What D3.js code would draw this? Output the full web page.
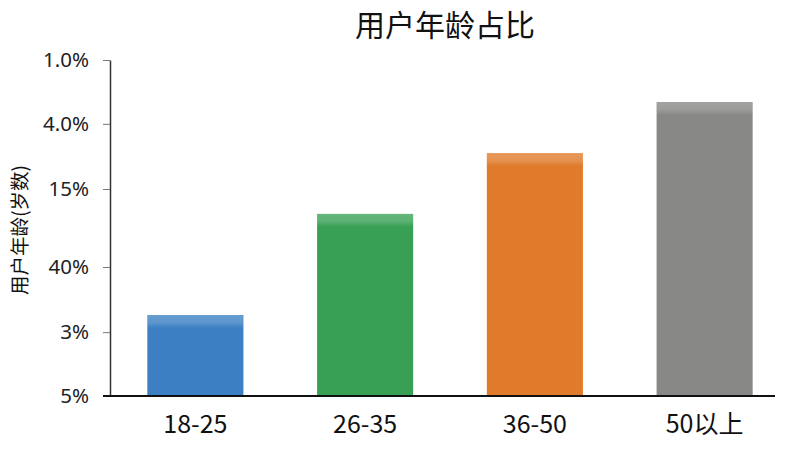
<!DOCTYPE html>
<html>
<head>
<meta charset="utf-8">
<script src="https://cdn.jsdelivr.net/npm/d3@7"></script>
<style>
  body { margin: 0; background: #fff; }
  text { font-family: "Noto Sans CJK SC", "Noto Sans", sans-serif; }
</style>
</head>
<body>
<div id="chart"></div>
<script>
// chart data
const categories = ["18-25", "26-35", "36-50", "50以上"];
const values = [24.1, 54.2, 72.3, 87.5];
const barColors = ["#3c80c3", "#38a055", "#e07b2b", "#888886"];
// y tick positions (axis units) and the labels printed on them
const tickValues = [0, 19, 38.4, 61.6, 81, 100];
const tickLabels = ["5%", "3%", "40%", "15%", "4.0%", "1.0%"];

const width = 800, height = 450;
const margin = { top: 60, right: 10, bottom: 54, left: 110 };

const svg = d3.select("#chart")
  .append("svg")
  .attr("width", width)
  .attr("height", height);

const defs = svg.append("defs");
const hl = defs.append("linearGradient")
  .attr("id", "hl")
  .attr("x1", 0).attr("y1", 0).attr("x2", 0).attr("y2", 1);
hl.append("stop").attr("offset", "0%").attr("stop-color", "#fff").attr("stop-opacity", 0.22);
hl.append("stop").attr("offset", "55%").attr("stop-color", "#fff").attr("stop-opacity", 0.18);
hl.append("stop").attr("offset", "100%").attr("stop-color", "#fff").attr("stop-opacity", 0);

const x = d3.scaleBand()
  .domain(categories)
  .range([margin.left, 790])
  .paddingInner(0.434)
  .paddingOuter(0.22);

const y = d3.scaleLinear()
  .domain([0, 100])
  .range([height - margin.bottom, margin.top]);

// title
svg.append("text")
  .attr("x", 445)
  .attr("y", 36)
  .attr("text-anchor", "middle")
  .attr("font-size", 30)
  .attr("fill", "#111")
  .text("用户年龄占比");

// y axis label
svg.append("text")
  .attr("transform", `translate(27,${230}) rotate(-90)`)
  .attr("text-anchor", "middle")
  .attr("font-size", 19.5)
  .attr("fill", "#111")
  .text("用户年龄(岁数)");

// bars
svg.selectAll(".bar")
  .data(values)
  .enter().append("rect")
  .attr("class", "bar")
  .attr("x", (d, i) => x(categories[i]))
  .attr("y", d => y(d))
  .attr("width", x.bandwidth())
  .attr("height", d => y(0) - y(d))
  .attr("fill", (d, i) => barColors[i]);

// lighter band on top of each bar
svg.selectAll(".hl")
  .data(values)
  .enter().append("rect")
  .attr("class", "hl")
  .attr("x", (d, i) => x(categories[i]))
  .attr("y", d => y(d))
  .attr("width", x.bandwidth())
  .attr("height", 13)
  .attr("fill", "url(#hl)");

// y axis
const yAxis = svg.append("g")
  .attr("transform", `translate(${margin.left},0)`)
  .call(d3.axisLeft(y)
    .tickValues(tickValues)
    .tickFormat((d, i) => tickLabels[i])
    .tickSize(7)
    .tickSizeOuter(0));
yAxis.select(".domain").attr("stroke", "#333").attr("stroke-width", 1.5);
yAxis.selectAll(".tick line").attr("stroke", "#777");
yAxis.selectAll(".tick text")
  .attr("x", -21)
  .attr("font-size", 20.5)
  .attr("fill", "#222")
  .style("font-family", "'Noto Sans', sans-serif");

// x axis
const xAxis = svg.append("g")
  .attr("transform", `translate(0,${y(0)})`)
  .call(d3.axisBottom(x).tickSize(0));
xAxis.select(".domain").remove();
xAxis.selectAll(".tick text")
  .attr("y", 37)
  .attr("dy", 0)
  .attr("font-size", 25)
  .attr("fill", "#111");

// baseline
svg.append("line")
  .attr("x1", margin.left - 7)
  .attr("x2", 775)
  .attr("y1", y(0))
  .attr("y2", y(0))
  .attr("stroke", "#111")
  .attr("stroke-width", 2);
</script>
</body>
</html>
